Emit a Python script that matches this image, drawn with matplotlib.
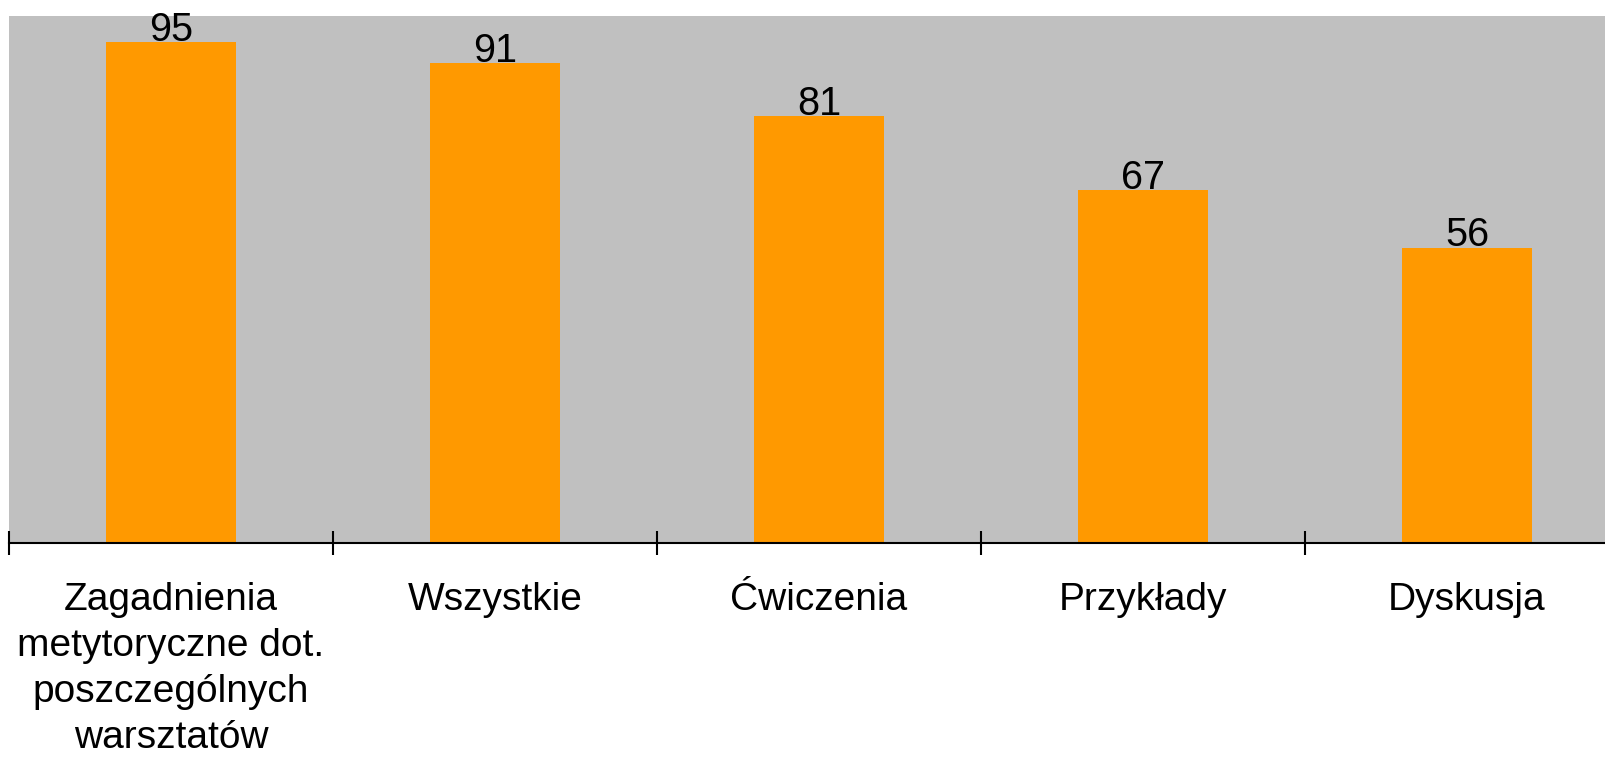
import matplotlib.pyplot as plt
import numpy as np

categories = ['Zagadnienia\nmetytoryczne dot.\nposzczególnych\nwarsztatów',
              'Wszystkie', 'Ćwiczenia', 'Przykłady', 'Dyskusja']
values = [95, 91, 81, 67, 56]

plt.rcParams['font.family'] = ['Liberation Sans', 'DejaVu Sans']

fig = plt.figure(figsize=(16.05, 7.57), dpi=100)
# the plot area runs past the right edge of the picture in the original
ax = fig.add_axes([9 / 1605, 214 / 757, 1620 / 1605, 527 / 757])
ax.set_facecolor('#C0C0C0')

x = np.arange(len(categories))
bars = ax.bar(x, values, width=0.4, color='#FF9900', zorder=2)
for xi, v in zip(x, values):
    ax.annotate(str(v), (xi, v), xytext=(0, 1), textcoords='offset points',
                ha='center', va='baseline', fontsize=28.5)

ax.set_xlim(-0.5, len(categories) - 0.5)
ax.set_ylim(0, 100)
ax.set_yticks([])
for s in ['top', 'left', 'right']:
    ax.spines[s].set_visible(False)
ax.spines['bottom'].set_linewidth(1.5)

ax.set_xticks(x)
ax.set_xticklabels(categories, fontsize=28, linespacing=1.36)
ax.tick_params(axis='x', which='major', length=0, pad=28)
ax.set_xticks(np.arange(len(categories) + 1) - 0.5, minor=True)
ax.tick_params(axis='x', which='minor', direction='inout', length=17, width=1.5)

fig.savefig('out.png', dpi=100)
